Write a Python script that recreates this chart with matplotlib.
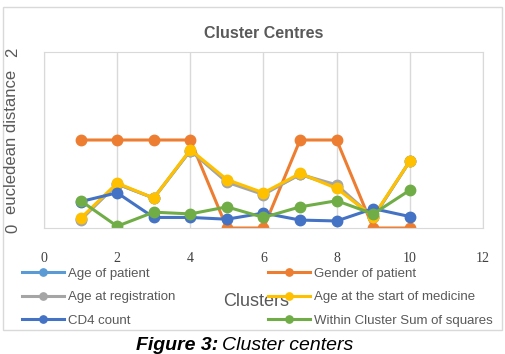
import matplotlib
matplotlib.use("Agg")
import matplotlib.pyplot as plt
from matplotlib.patches import Rectangle

plt.rcParams['font.family'] = ['Liberation Sans', 'DejaVu Sans']

clusters = [1, 2, 3, 4, 5, 6, 7, 8, 9, 10]
age_patient = [0.10, 0.50, 0.34, 0.88, 0.53, 0.39, 0.61, 0.47, 0.12, 0.76]
gender = [1, 1, 1, 1, 0, 0, 1, 1, 0, 0]
age_reg = [0.09, 0.50, 0.34, 0.88, 0.52, 0.38, 0.61, 0.49, 0.12, 0.76]
age_med = [0.11, 0.51, 0.34, 0.89, 0.55, 0.40, 0.62, 0.45, 0.13, 0.76]
cd4 = [0.30, 0.40, 0.12, 0.12, 0.10, 0.17, 0.09, 0.08, 0.22, 0.13]
wcss = [0.31, 0.02, 0.18, 0.16, 0.24, 0.12, 0.24, 0.31, 0.16, 0.43]

series = [
    ("Age of patient", age_patient, "#5B9BD5"),
    ("Gender of patient", gender, "#ED7D31"),
    ("Age at registration", age_reg, "#A5A5A5"),
    ("Age at the start of medicine", age_med, "#FFC000"),
    ("CD4 count", cd4, "#4472C4"),
    ("Within Cluster Sum of squares", wcss, "#70AD47"),
]

fig = plt.figure(figsize=(5.06, 3.54), dpi=100)
fig.patches.append(Rectangle((3 / 506, 1 - 330 / 354), 499 / 506, 323 / 354,
                             transform=fig.transFigure, fill=False,
                             edgecolor="#D9D9D9", lw=1))

ax = fig.add_axes([44 / 506, 1 - 228 / 354, 439 / 506, 176 / 354])
lines = {}
for name, vals, col in series:
    ln, = ax.plot(clusters, vals, color=col, lw=2.2, marker="o", ms=7.5,
                  label=name)
    lines[name] = ln

ax.set_xlim(0, 12)
ax.set_ylim(0, 2)
ax.set_xticks(range(0, 13, 2))
ax.set_yticks([0, 2])
ax.grid(axis="x", color="#D9D9D9", lw=1)
ax.set_axisbelow(True)
for s in ax.spines.values():
    s.set_color("#D9D9D9")
ax.tick_params(axis="x", length=0, pad=17, labelsize=10, labelcolor="#404040")
ax.tick_params(axis="y", length=0, pad=17, labelsize=12, labelcolor="#595959")
for lab in ax.get_xticklabels():
    lab.set_fontfamily("Liberation Serif")
for lab in ax.get_yticklabels():
    lab.set_rotation(90)
    lab.set_va("center")

fig.text(12 / 506, 1 - 142 / 354, "eucledean distance", rotation=90,
         ha="center", va="center", fontsize=12, color="#595959")
fig.text(264 / 506, 1 - 33 / 354, "Cluster Centres", ha="center", va="center",
         fontsize=11.5, fontweight="bold", color="#595959")
fig.text(256 / 506, 1 - 301 / 354, "Clusters", ha="center", va="center",
         fontsize=13, color="#595959", zorder=1)

order = ["Age of patient", "Age at registration", "CD4 count",
         "Gender of patient", "Age at the start of medicine",
         "Within Cluster Sum of squares"]
leg = fig.legend([lines[n] for n in order], order, ncol=2,
                 loc="upper left", bbox_to_anchor=(15 / 506, 1 - 261 / 354),
                 frameon=False, fontsize=9.5, handlelength=3.2,
                 handletextpad=0.3, columnspacing=7.0, labelspacing=0.85,
                 borderpad=0, markerscale=0.7)
for t in leg.get_texts():
    t.set_color("#595959")
leg.set_zorder(5)

fig.text(218 / 506, 1 - 346 / 354, "Figure 3:", ha="right", va="center",
         fontsize=14, fontweight="bold", fontstyle="italic", color="black")
fig.text(222 / 506, 1 - 346 / 354, "Cluster centers", ha="left", va="center",
         fontsize=14, fontstyle="italic", color="black")

fig.savefig("out.png", dpi=100)
